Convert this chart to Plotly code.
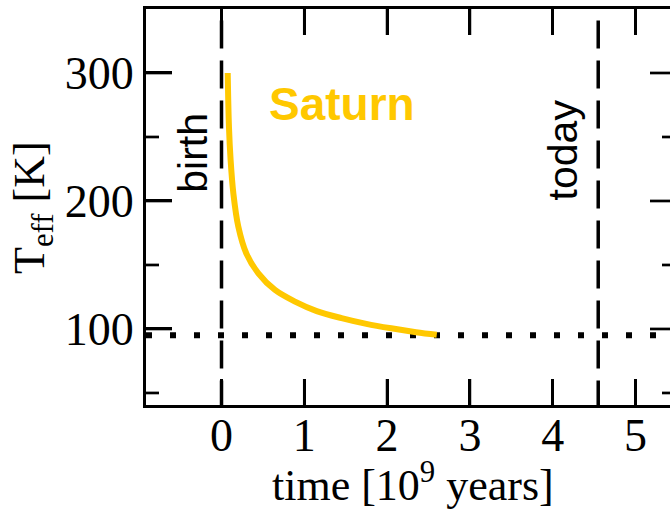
import plotly.graph_objects as go

# Saturn effective temperature evolution
time_gyr = [0.075, 0.09, 0.11, 0.143, 0.203, 0.30, 0.445, 0.646, 0.888,
            1.15, 1.45, 1.75, 2.05, 2.35, 2.6]
teff_k = [300, 258, 232, 206, 180, 159, 143.5, 130.5, 121.4,
          114, 108.5, 104, 100.5, 97.5, 95.5]

birth_time = 0.0
today_time = 4.55
equilibrium_teff = 95.0

x_ticks = [0, 1, 2, 3, 4, 5]
y_major = [100, 200, 300]
y_minor = [50, 150, 250]
x_range = [-0.912, 5.417]
y_range = [40.6, 350]
vline_span = [341, 40.6]

serif = "Liberation Serif"
sans = "Liberation Sans"
gold = "#FFC800"

W, H = 670, 509
M = dict(l=146, r=0, t=9, b=104)
plot_w = W - M["l"] - M["r"]
plot_h = H - M["t"] - M["b"]
# data units per pixel, used to give the inside tick marks a length in pixels
ux = (x_range[1] - x_range[0]) / plot_w
uy = (y_range[1] - y_range[0]) / plot_h

fig = go.Figure()

# horizontal dotted line (equilibrium temperature)
fig.add_trace(go.Scatter(x=x_range, y=[equilibrium_teff, equilibrium_teff], mode="lines",
                         line=dict(color="black", width=6, dash="6px,18px"),
                         showlegend=False, hoverinfo="skip"))
# vertical dashed lines: birth and today
for t in (birth_time, today_time):
    fig.add_trace(go.Scatter(x=[t, t], y=vline_span, mode="lines",
                             line=dict(color="black", width=3.5, dash="28px,12px"),
                             showlegend=False, hoverinfo="skip"))
# Saturn curve
fig.add_trace(go.Scatter(x=time_gyr, y=teff_k, mode="lines",
                         line=dict(color=gold, width=6, shape="spline", smoothing=1.0),
                         showlegend=False))

# inside tick marks on all four sides, built from the tick lists
def add_ticks(segments):
    tx, ty = [], []
    for (xa, xb, ya, yb) in segments:
        tx.extend([xa, xb, None]); ty.extend([ya, yb, None])
    fig.add_trace(go.Scatter(x=tx, y=ty, mode="lines",
                             line=dict(color="black", width=2.7, simplify=False),
                             showlegend=False, hoverinfo="skip"))

x0, x1 = x_range
y0, y1 = y_range
add_ticks([(x0, x0 + 26 * ux, v, v) for v in y_major])
add_ticks([(x0, x0 + 13 * ux, v, v) for v in y_minor])
add_ticks([(x1 - 20 * ux, x1, v, v) for v in y_major])
add_ticks([(x1 - 8 * ux, x1, v, v) for v in y_minor])
add_ticks([(v, v, y0, y0 + 26 * uy) for v in x_ticks])
add_ticks([(v, v, y1 - 26 * uy, y1) for v in x_ticks])

fig.add_annotation(x=-0.34, y=238, text="birth", textangle=-90, showarrow=False,
                   font=dict(family=sans, size=41, color="black"))
fig.add_annotation(x=4.12, y=240, text="today", textangle=-90, showarrow=False,
                   font=dict(family=sans, size=41, color="black"))
fig.add_annotation(x=1.46, y=276, text="<b>Saturn</b>", showarrow=False,
                   font=dict(family=sans, size=46, color=gold))

# axis titles
fig.add_annotation(xref="paper", yref="paper", x=-0.2176, y=0.5,
                   text="T<sub>eff</sub> [K]", textangle=-90, showarrow=False,
                   xanchor="center", yanchor="middle",
                   font=dict(family=serif, size=44, color="black"))
fig.add_annotation(xref="paper", yref="paper", x=0.5095, y=-0.196,
                   text="time [10<sup>9</sup> years]", showarrow=False,
                   xanchor="center", yanchor="middle",
                   font=dict(family=serif, size=44, color="black"))

fig.update_layout(
    template="none",
    width=W, height=H,
    margin=M,
    paper_bgcolor="white", plot_bgcolor="white",
    xaxis=dict(range=x_range, tickmode="array", tickvals=x_ticks,
               ticks="inside", ticklen=26, tickwidth=2.7, tickcolor="black",
               showgrid=False, zeroline=False,
               showline=True, linewidth=3, linecolor="black", mirror="ticks",
               ticklabelstandoff=-12,
               tickfont=dict(family=serif, size=46, color="black")),
    yaxis=dict(range=y_range, tickmode="array", tickvals=y_major,
               ticks="inside", ticklen=26, tickwidth=2.7, tickcolor="black",
               showgrid=False, zeroline=False,
               showline=True, linewidth=3, linecolor="black",
               tickfont=dict(family=serif, size=46, color="black")),
)

fig.write_html("out.html")
